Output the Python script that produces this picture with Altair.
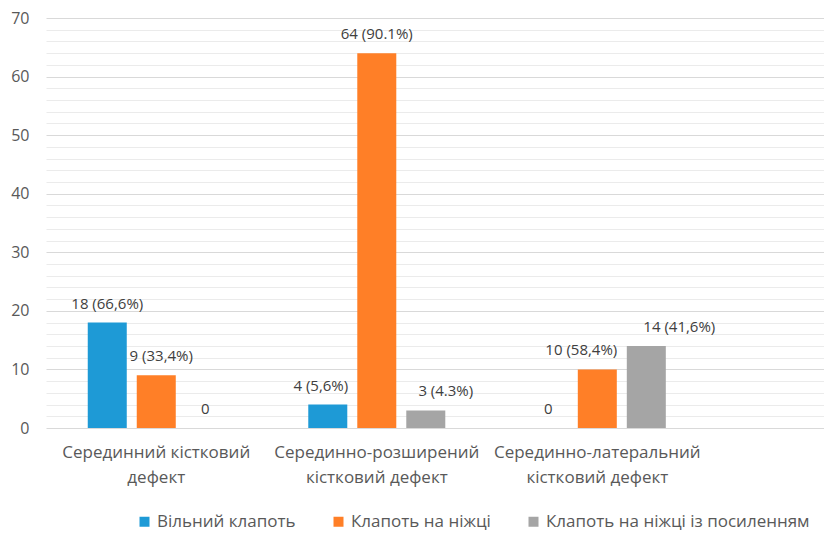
import altair as alt
import pandas as pd

# ---- data ----
categories = [
    "Серединний кістковий\nдефект",
    "Серединно-розширений\nкістковий дефект",
    "Серединно-латеральний\nкістковий дефект",
]
series = ["Вільний клапоть", "Клапоть на ніжці", "Клапоть на ніжці із посиленням"]
free_flap = [18, 4, 0]
pedicled_flap = [9, 64, 10]
reinforced_flap = [0, 3, 14]
free_labels = ["18 (66,6%)", "4 (5,6%)", "0"]
pedicled_labels = ["9 (33,4%)", "64 (90.1%)", "10 (58,4%)"]
reinforced_labels = ["0", "3 (4.3%)", "14 (41,6%)"]

# ---- styles ----
colors = ["#1E9AD6", "#FF7F27", "#A5A5A5"]
# manual label nudges (px), per series, per category
label_nudge = [
    [0, -7, 0],
    [5, 0, -16],
    [0, 20, 33],
]
FONT = "Open Sans"

rows = []
for s_idx, (vals, labs) in enumerate(
    [(free_flap, free_labels), (pedicled_flap, pedicled_labels), (reinforced_flap, reinforced_labels)]
):
    for c_idx, cat in enumerate(categories):
        rows.append(
            {
                "category": cat,
                "series": series[s_idx],
                "value": vals[c_idx],
                "label": labs[c_idx],
                "nudge": label_nudge[s_idx][c_idx],
            }
        )
df = pd.DataFrame(rows)

x_enc = alt.X(
    "category:N",
    sort=categories,
    scale=alt.Scale(paddingInner=0, paddingOuter=0.264, align=0),
    axis=alt.Axis(
        title=None,
        labelAngle=0,
        domain=False,
        ticks=False,
        labelExpr="split(datum.label, '\\n')",
        labelFontSize=17,
        labelFont=FONT,
        labelColor="#595959",
        labelPadding=16,
        labelLineHeight=25,
        labelBaseline="top",
        labelLimit=0,
    ),
)
xoff_enc = alt.XOffset(
    "series:N", sort=series, scale=alt.Scale(paddingInner=0.204, paddingOuter=0.852)
)
y_enc = alt.Y(
    "value:Q",
    scale=alt.Scale(domain=[0, 70], nice=False),
    axis=alt.Axis(
        title=None,
        values=list(range(0, 71, 2)),
        tickCount=100,
        format="d",
        labelExpr="datum.value % 10 === 0 ? datum.label : ''",
        labelOverlap=False,
        domain=False,
        ticks=False,
        labelFontSize=16,
        labelFont=FONT,
        labelColor="#595959",
        labelPadding=17,
        gridColor={"condition": {"test": "datum.value % 10 === 0", "value": "#d9d9d9"}, "value": "#ebebeb"},
        gridWidth=1,
    ),
)

bars = alt.Chart(df).mark_bar().encode(
    x=x_enc,
    xOffset=xoff_enc,
    y=y_enc,
    color=alt.Color(
        "series:N",
        sort=series,
        scale=alt.Scale(domain=series, range=colors),
        legend=alt.Legend(
            title=None,
            orient="none",
            direction="horizontal",
            legendX=90,
            legendY=495,
            symbolType="square",
            symbolSize=100,
            symbolStrokeWidth=0,
            labelFontSize=17,
            labelFont=FONT,
            labelColor="#595959",
            labelLimit=0,
            columnPadding=34,
            labelOffset=4,
        ),
    ),
)

# value labels, with manual nudges applied per layer
nudged = []
for n in sorted(df["nudge"].unique()):
    nudged.append(
        alt.Chart(df[df["nudge"] == n]).mark_text(
            baseline="middle", dy=-19, dx=int(n), fontSize=15, font=FONT, color="#404040"
        ).encode(
            x=alt.X("category:N", sort=categories),
            xOffset=alt.XOffset("series:N", sort=series),
            y=alt.Y("value:Q"),
            text="label:N",
        )
    )

chart = (
    alt.layer(bars, *nudged)
    .properties(
        width=778,
        height=410,
        autosize=alt.AutoSizeParams(type="none"),
        padding={"left": 46, "top": 18, "right": 0, "bottom": 106},
    )
    .configure_view(stroke=None)
)

chart.save("out.html", embed_options={"renderer": "svg", "actions": False})
